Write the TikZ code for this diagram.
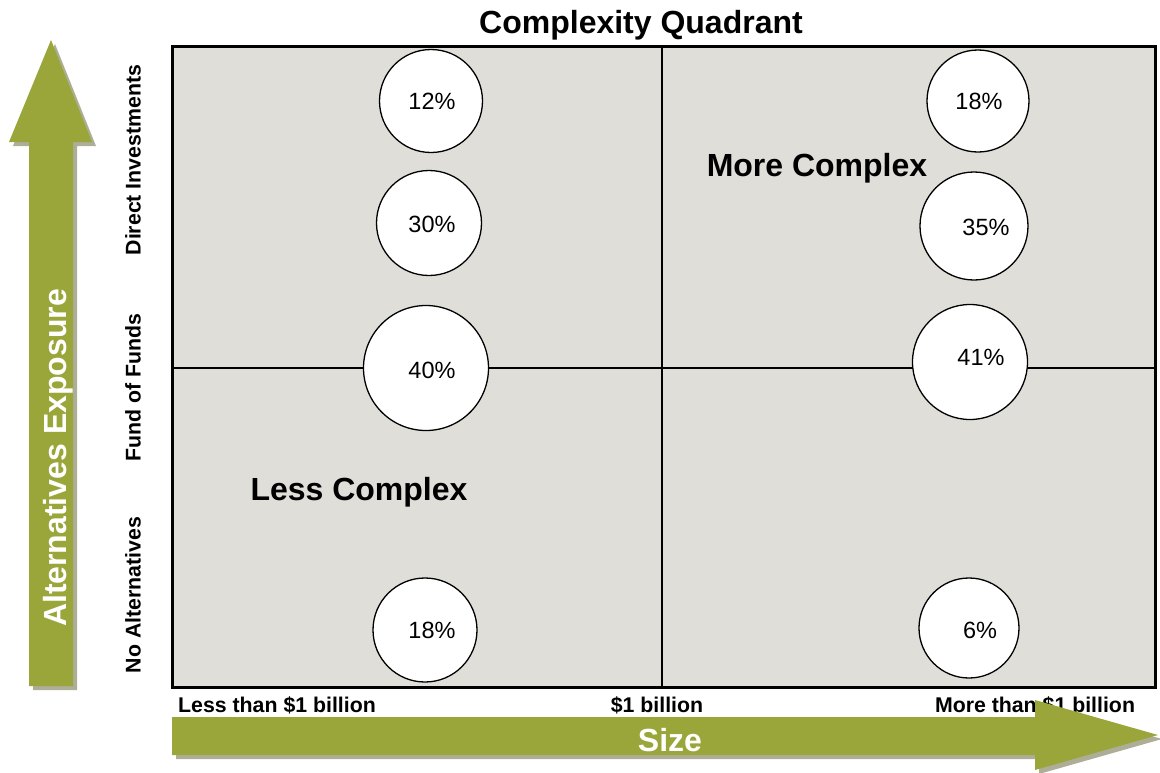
\documentclass[tikz,border=0pt]{standalone}
\usepackage{fontspec}
\setmainfont{Liberation Sans}
\begin{document}
\begin{tikzpicture}[x=1pt,y=-1pt,
  quadfill/.style={fill=quadbg},
  bubble/.style={circle,draw=black,line width=1.3pt,fill=white,inner sep=0pt},
  pct/.style={font=\fontsize{23.5}{27}\selectfont},
  axislabel/.style={font=\bfseries\fontsize{21.3}{25}\selectfont},
  zonelabel/.style={font=\bfseries\fontsize{32}{38}\selectfont},
  arrowtext/.style={font=\bfseries\fontsize{32}{38}\selectfont,text=white},
  shadow/.style={fill=shadowgray},
  bigarrow/.style={fill=olive}
]
\definecolor{quadbg}{HTML}{E0DED8}
\definecolor{olive}{HTML}{9AA63A}
\definecolor{shadowgray}{HTML}{AEAE98}
\useasboundingbox (0,0) rectangle (1160,772);

% title
\node[font=\bfseries\fontsize{32}{38}\selectfont] (title) at (641,25) {Complexity Quadrant};

% quadrant panel with centre cross
\draw[quadfill,line width=3pt] (172,46) rectangle (1155,687);
\draw[line width=2pt] (662,46) -- (662,687);
\draw[line width=2pt] (172,368) -- (1155,368);

% bubbles
\node[bubble,minimum size=103pt] (c12) at (431,101) {};
\node[bubble,minimum size=105pt] (c30) at (429,223) {};
\node[bubble,minimum size=125pt] (c40) at (426,368) {};
\node[bubble,minimum size=104pt] (c18a) at (425,630) {};
\node[bubble,minimum size=102pt] (c18b) at (978,101) {};
\node[bubble,minimum size=108pt] (c35) at (974,226) {};
\node[bubble,minimum size=115pt] (c41) at (970,362) {};
\node[bubble,minimum size=100pt] (c6) at (969,628) {};

\node[pct] (t12) at (432,101) {12\%};
\node[pct] (t30) at (432,224) {30\%};
\node[pct] (t40) at (432,370) {40\%};
\node[pct] (t18a) at (432,630) {18\%};
\node[pct] (t18b) at (979,101) {18\%};
\node[pct] (t35) at (986,227) {35\%};
\node[pct] (t41) at (981,357) {41\%};
\node[pct] (t6) at (980,630) {6\%};

% zone labels
\node[zonelabel] (more) at (817,168) {More Complex};
\node[zonelabel] (less) at (359,492) {Less Complex};

% row labels
\node[axislabel,rotate=90] (direct) at (133,160) {Direct Investments};
\node[axislabel,rotate=90] (fof) at (133,388) {Fund of Funds};
\node[axislabel,rotate=90] (noalt) at (133,595) {No Alternatives};

% column labels
\node[axislabel] (lt) at (277,705) {Less than \$1 billion};
\node[axislabel] (mid) at (657,705) {\$1 billion};
\node[axislabel] (mt) at (1035,705) {More than \$1 billion};

% vertical arrow: exposure
\path[shadow] (33,690) -- (77,690) -- (77,146) -- (96,146) -- (55,44) -- (13,146) -- (33,146) -- cycle;
\path[bigarrow] (29,686) -- (73,686) -- (73,142) -- (92,142) -- (51,40) -- (9,142) -- (29,142) -- cycle;
\node[arrowtext,rotate=90] (exposure) at (58,458) {Alternatives Exposure};

% horizontal arrow: size
\path[shadow] (176,721) -- (1039,721) -- (1039,774) -- (1162,739) -- (1039,704) -- (1039,759) -- (176,759) -- cycle;
\path[bigarrow] (172,717) -- (1035,717) -- (1035,700) -- (1158,735) -- (1035,770) -- (1035,755) -- (172,755) -- cycle;
\node[arrowtext] (size) at (670,740) {Size};
\end{tikzpicture}
\end{document}
